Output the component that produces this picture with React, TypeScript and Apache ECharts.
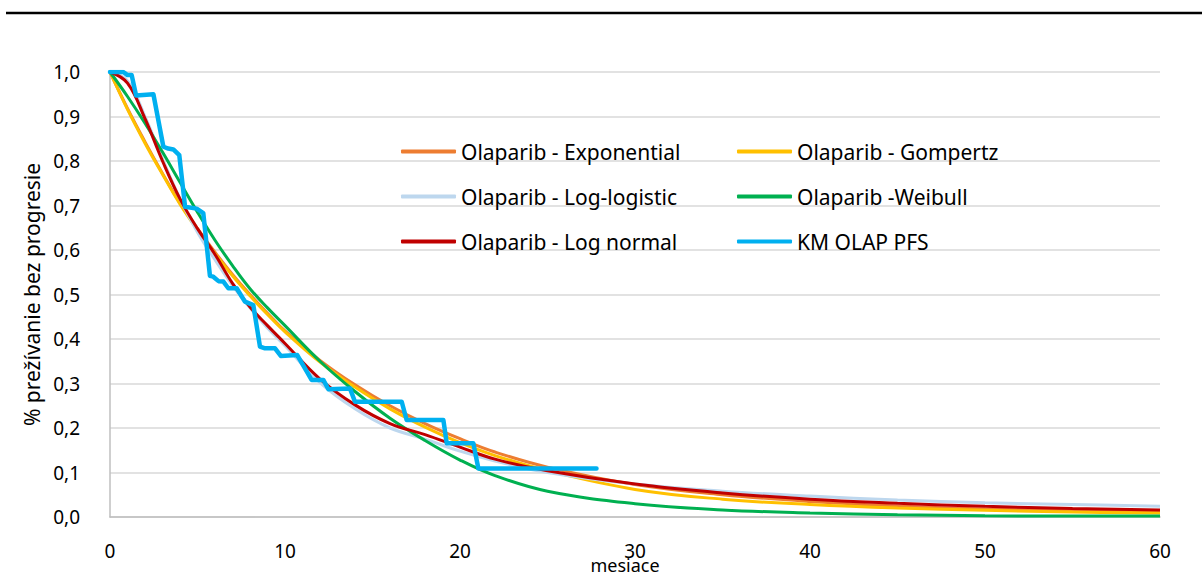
import React, { useEffect, useRef } from "react";
import * as echarts from "echarts";

// Time points (months) used for the fitted parametric curves
const months = [0, 1, 2, 3, 4, 5, 6, 7, 8, 9, 10, 12, 14, 16, 18, 20, 22, 25, 30, 35, 40, 45, 50, 55, 60];

const exponential = [1.0, 0.918, 0.843, 0.772, 0.705, 0.648, 0.595, 0.545, 0.5, 0.458, 0.418, 0.352, 0.297, 0.25, 0.21, 0.176, 0.146, 0.112, 0.073, 0.05, 0.035, 0.025, 0.018, 0.014, 0.011];
const gompertz = [1.0, 0.916, 0.84, 0.77, 0.703, 0.645, 0.592, 0.542, 0.497, 0.455, 0.416, 0.348, 0.292, 0.243, 0.202, 0.167, 0.138, 0.104, 0.062, 0.04, 0.028, 0.02, 0.015, 0.011, 0.009];
const logLogistic = [1.0, 0.98, 0.9, 0.805, 0.715, 0.64, 0.578, 0.52, 0.47, 0.425, 0.385, 0.302, 0.243, 0.2, 0.175, 0.148, 0.126, 0.1, 0.074, 0.058, 0.047, 0.038, 0.032, 0.028, 0.024];
const weibull = [1.0, 0.945, 0.885, 0.82, 0.752, 0.685, 0.622, 0.565, 0.513, 0.47, 0.43, 0.35, 0.282, 0.222, 0.172, 0.128, 0.093, 0.058, 0.03, 0.016, 0.009, 0.005, 0.003, 0.002, 0.002];
const logNormal = [1.0, 0.975, 0.895, 0.8, 0.715, 0.648, 0.59, 0.525, 0.472, 0.43, 0.39, 0.31, 0.252, 0.21, 0.185, 0.157, 0.13, 0.104, 0.074, 0.054, 0.04, 0.031, 0.024, 0.019, 0.016];

// Kaplan-Meier (KM OLAP PFS) vertices
const kmMonths = [0, 0.76, 1.0, 1.24, 1.49, 2.48, 3.05, 3.33, 3.62, 3.96, 4.29, 4.95, 5.33, 5.71, 5.9, 6.2, 6.48, 6.76, 7.24, 7.71, 8.19, 8.57, 8.86, 9.43, 9.76, 10.7, 11.14, 11.52, 12.19, 12.48, 13.71, 14.0, 16.67, 16.95, 19.05, 19.24, 20.76, 21.05, 27.8];
const kmSurv = [1.0, 1.0, 0.993, 0.993, 0.947, 0.95, 0.832, 0.828, 0.826, 0.813, 0.697, 0.693, 0.683, 0.542, 0.54, 0.53, 0.529, 0.514, 0.514, 0.484, 0.476, 0.383, 0.379, 0.379, 0.362, 0.364, 0.334, 0.308, 0.308, 0.287, 0.289, 0.259, 0.259, 0.218, 0.218, 0.166, 0.166, 0.109, 0.109];

const seriesNames = [
  "Olaparib - Exponential",
  "Olaparib - Gompertz",
  "Olaparib - Log-logistic",
  "Olaparib -Weibull",
  "Olaparib - Log normal",
  "KM OLAP PFS",
];
const xTicks = [0, 10, 20, 30, 40, 50, 60];
const xTitle = "mesiace";
const yTitle = "% prežívanie bez progresie";

const FONT = "'Noto Sans', sans-serif";

export default function App() {
  const ref = useRef<HTMLDivElement>(null);
  useEffect(() => {
    if (!ref.current) return;
    const chart = echarts.init(ref.current, null, { renderer: "svg" });
    const pair = (ys: number[]) => months.map((m, i) => [m, ys[i]]);
    const fit = (name: string, ys: number[], color: string) => ({
      name,
      type: "line",
      data: pair(ys),
      smooth: 0.4,
      symbol: "none",
      lineStyle: { color, width: 3 },
      itemStyle: { color },
    });
    const legendBase = {
      orient: "vertical",
      top: 136,
      icon: "roundRect",
      itemWidth: 55,
      itemHeight: 4,
      itemGap: 24,
      textStyle: { fontSize: 21, color: "#000", fontFamily: FONT, padding: [0, 0, 0, 0] },
    };
    chart.setOption({
      animation: false,
      textStyle: { fontFamily: FONT },
      grid: { left: 110, right: 42, top: 72, bottom: 59, containLabel: false, outerBoundsMode: "none" },
      legend: [
        { ...legendBase, data: [seriesNames[0], seriesNames[2], seriesNames[4]], left: 396 },
        { ...legendBase, data: [seriesNames[1], seriesNames[3], seriesNames[5]], left: 732 },
      ],
      xAxis: {
        type: "value",
        min: 0,
        max: 60,
        interval: 10,
        axisLine: { show: true, lineStyle: { color: "#bfbfbf", width: 1.5 } },
        axisTick: { show: false },
        splitLine: { show: false },
        axisLabel: {
          fontSize: 19,
          color: "#000",
          margin: 24,
          formatter: (v: number) => (xTicks.includes(v) ? String(v) : ""),
        },
      },
      yAxis: {
        type: "value",
        min: 0,
        max: 1,
        interval: 0.1,
        name: yTitle,
        nameLocation: "middle",
        nameGap: 62,
        nameRotate: 90,
        nameTextStyle: { fontSize: 21, color: "#000" },
        axisLine: { show: true, lineStyle: { color: "#bfbfbf", width: 1.5 } },
        axisTick: { show: false },
        splitLine: { show: true, lineStyle: { color: "#d9d9d9", width: 1.5 } },
        axisLabel: {
          fontSize: 19,
          color: "#000",
          margin: 30,
          formatter: (v: number) => v.toFixed(1).replace(".", ","),
        },
      },
      graphic: [
        {
          type: "line",
          shape: { x1: 6, y1: 13, x2: 1202, y2: 13 },
          style: { stroke: "#000", lineWidth: 2.5 },
          silent: true,
        },
        {
          type: "text",
          x: 625,
          y: 565,
          style: {
            text: xTitle,
            fontSize: 18,
            fontFamily: FONT,
            fill: "#000",
            align: "center",
            verticalAlign: "middle",
          },
          silent: true,
        },
      ],
      series: [
        fit(seriesNames[0], exponential, "#ED7D31"),
        fit(seriesNames[1], gompertz, "#FFC000"),
        fit(seriesNames[2], logLogistic, "#BDD7EE"),
        fit(seriesNames[3], weibull, "#00B050"),
        fit(seriesNames[4], logNormal, "#C00000"),
        {
          name: seriesNames[5],
          type: "line",
          data: kmMonths.map((m, i) => [m, kmSurv[i]]),
          symbol: "none",
          lineStyle: { color: "#00B0F0", width: 4.5, join: "round", cap: "round" },
          itemStyle: { color: "#00B0F0" },
          z: 5,
        },
      ],
    });
    return () => chart.dispose();
  }, []);
  return (
    <div
      ref={ref}
      style={{ position: "fixed", left: 0, top: 0, width: 1202, height: 576, background: "#fff" }}
    />
  );
}
